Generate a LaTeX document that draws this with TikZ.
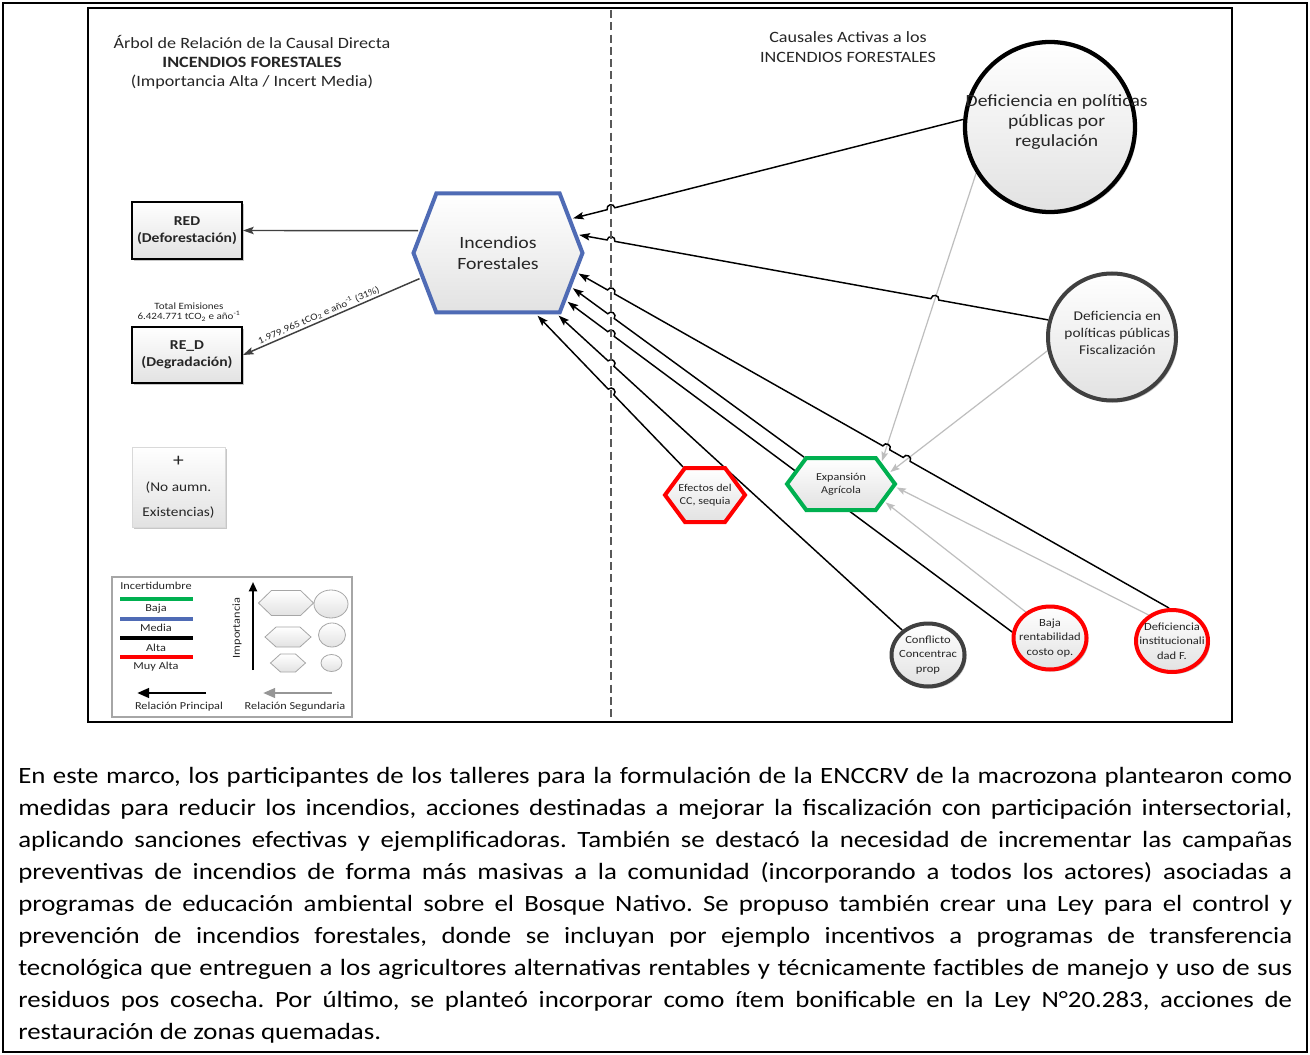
\documentclass[tikz,border=0pt]{standalone}
\usepackage{fontspec}
\setmainfont{Carlito}[FakeStretch=1.15]
\usetikzlibrary{arrows.meta,calc,intersections,shapes.geometric,shapes.symbols,shadows}
\pgfdeclarelayer{bottom}
\pgfdeclarelayer{conn}
\pgfsetlayers{bottom,conn,main}
\definecolor{hexblue}{RGB}{79,107,181}
\definecolor{cred}{RGB}{255,0,0}
\definecolor{cgreen}{RGB}{0,176,80}
\definecolor{cdark}{RGB}{64,64,64}
\definecolor{csec}{RGB}{190,190,190}
\definecolor{ctext}{RGB}{38,38,38}
\definecolor{cdash}{RGB}{89,89,89}
\definecolor{cfill}{RGB}{226,226,226}
\definecolor{clegend}{RGB}{166,166,166}
\definecolor{clarrow}{RGB}{150,150,150}
\tikzset{
  grad/.style={top color=white, bottom color=cfill},
  shad/.style={drop shadow={shadow xshift=1.5pt, shadow yshift=-1.5pt, opacity=0.22, fill=black}},
  hexa/.style={signal, signal to=east and west, signal from=nowhere, grad, inner sep=0pt, align=center, text=ctext},
  circ/.style={ellipse, grad, inner sep=0pt, align=center, text=ctext, shad},
  boxn/.style={rectangle, grad, inner sep=0pt, align=center, text=ctext},
  lbl/.style={align=center, text=ctext, inner sep=0pt},
  prim/.style={draw=black, line width=1.1pt, shorten <=1.2pt, {Stealth[length=8pt,width=5.5pt,inset=1.5pt]}-},
  secn/.style={draw=csec, line width=0.9pt, shorten >=1pt, -{Stealth[length=7pt,width=5pt,inset=1.2pt]}},
  outl/.style={draw=cdark, line width=1.1pt, shorten <=1.2pt, -{Stealth[length=8pt,width=5.5pt,inset=1.5pt]}},
  hop/.style n args={3}{insert path={-- ($(#1)!3pt!(#2)$) .. controls ($(#1)!3pt!(#2)!4pt!-90:(#2)$) and ($(#1)!3pt!(#3)!4pt!90:(#3)$) .. ($(#1)!3pt!(#3)$)}},
}
\begin{document}
\frenchspacing
\begin{tikzpicture}[x=0.75pt,y=-0.75pt]
\useasboundingbox (0,0) rectangle (1310,1055);
\begin{pgfonlayer}{bottom}
\fill[white] (0,0) rectangle (1310,1055);
\end{pgfonlayer}
% frames
\draw[black, line width=1.9pt] (3,3) rectangle (1307,1052);
\draw[black, line width=1.1pt] (88,8) rectangle (1232,722);

% titles
\node[lbl, font=\fontsize{11.8}{14.3}\selectfont] (title) at (252,62)
  {Árbol de Relación de la Causal Directa\\\textbf{INCENDIOS FORESTALES}\\(Importancia Alta / Incert Media)};
\node[lbl, font=\fontsize{11.8}{15}\selectfont] (title2) at (848,47)
  {Causales Activas a los\\INCENDIOS FORESTALES};

% main hexagon
\node[hexa, draw=hexblue, line width=3pt, minimum width=126.75pt, minimum height=89.25pt,
      signal pointer angle=138, font=\fontsize{12.9}{15.75}\selectfont] (hex) at (498,253) {Incendios\\Forestales};

% left boxes
\node[boxn, draw=black, line width=1.5pt, shad, minimum width=82.5pt, minimum height=42.75pt,
      font=\fontsize{10.2}{12.5}\selectfont\bfseries] (red) at (187,230.5) {RED\\(Deforestación)};
\node[boxn, draw=black, line width=1.5pt, shad, minimum width=82.5pt, minimum height=42pt,
      font=\fontsize{10.2}{12.5}\selectfont\bfseries] (red2) at (187,355) {RE\_D\\(Degradación)};
\node[lbl, font=\fontsize{7.2}{7.6}\selectfont] (tot) at (189,312)
  {Total Emisiones\\6.424.771 tCO\textsubscript{2} e año\textsuperscript{-1}};
\node[boxn, draw=black!15, line width=0.6pt, shad, minimum width=69.75pt, minimum height=60pt,
      font=\fontsize{10}{18.75}\selectfont] (plus) at (178.5,487) {{\fontsize{14}{14}\selectfont +}\\(No aumn.\\Existencias)};

% right circles
\node[circ, draw=black, line width=3.2pt, minimum width=127.5pt, minimum height=127.5pt,
      label={[lbl, font=\fontsize{12.8}{15}\selectfont, yshift=3.5pt, xshift=5pt]center:{Deficiencia en políticas\\públicas por\\regulación}}] (bigc) at (1050,127) {};
\node[circ, draw=cdark, line width=3pt, minimum width=96pt, minimum height=95.25pt,
      label={[lbl, font=\fontsize{10}{12.75}\selectfont, yshift=3pt, xshift=4pt]center:{Deficiencia en\\políticas públicas\\Fiscalización}}] (fisc) at (1112,337) {};

% small hexagons
\node[hexa, draw=cred, line width=3pt, minimum width=60pt, minimum height=40.5pt, signal pointer angle=107,
      label={[lbl, font=\fontsize{7.9}{9.75}\selectfont]center:{Efectos del\\CC, sequia}}] (efec) at (705,495) {};
\node[hexa, draw=cgreen, line width=3pt, minimum width=81pt, minimum height=39pt, signal pointer angle=107,
      label={[lbl, font=\fontsize{7.9}{9.75}\selectfont]center:{Expansión\\Agrícola}}] (expa) at (841,484) {};

% bottom circles
\node[circ, draw=cdark, line width=3pt, minimum width=54.75pt, minimum height=47.25pt,
      label={[lbl, font=\fontsize{8.2}{10.9}\selectfont]center:{Conflicto\\Concentrac\\prop}}] (conf) at (928,655) {};
\node[circ, draw=cred, line width=3pt, minimum width=54.75pt, minimum height=47.25pt,
      label={[lbl, font=\fontsize{8.2}{10.9}\selectfont]center:{Baja\\rentabilidad\\costo op.}}] (baja) at (1050,638) {};
\node[circ, draw=cred, line width=3pt, minimum width=54pt, minimum height=46.5pt,
      label={[lbl, font=\fontsize{8.2}{10.9}\selectfont]center:{Deficiencia\\institucionali\\dad F.}}] (defi) at (1172,641) {};

% legend
\draw[clegend, line width=0.8pt] (112,577) rectangle (352,717);
\node[lbl, font=\fontsize{8}{9}\selectfont] (lgInc) at (156,586) {Incertidumbre};
\coordinate (lg1a) at (120,599); \coordinate (lg1b) at (193,599);
\coordinate (lg2a) at (120,619); \coordinate (lg2b) at (193,619);
\coordinate (lg3a) at (120,638); \coordinate (lg3b) at (193,638);
\coordinate (lg4a) at (120,657); \coordinate (lg4b) at (193,657);
\draw[cgreen, line width=2.3pt] (lg1a) -- (lg1b);
\draw[hexblue, line width=2.3pt] (lg2a) -- (lg2b);
\draw[black, line width=2.3pt] (lg3a) -- (lg3b);
\draw[cred, line width=2.3pt] (lg4a) -- (lg4b);
\node[lbl, font=\fontsize{8}{9}\selectfont] (lgB) at (156,609) {Baja};
\node[lbl, font=\fontsize{8}{9}\selectfont] (lgM) at (156,628) {Media};
\node[lbl, font=\fontsize{8}{9}\selectfont] (lgA) at (156,648) {Alta};
\node[lbl, font=\fontsize{8}{9}\selectfont] (lgMA) at (156,667) {Muy Alta};
\node[lbl, font=\fontsize{8}{9}\selectfont, rotate=90] (lgImp) at (237,628) {Importancia};
\coordinate (lgv1) at (253,670); \coordinate (lgv2) at (253,582);
\draw[black, line width=1.5pt, -{Triangle[length=7pt,width=6pt]}] (lgv1) -- (lgv2);
\node[hexa, draw=clegend, line width=0.6pt, minimum width=41.25pt, minimum height=18.75pt, signal pointer angle=88] (lh1) at (286,603) {};
\node[hexa, draw=clegend, line width=0.6pt, minimum width=34.5pt, minimum height=15pt, signal pointer angle=84] (lh2) at (288,637) {};
\node[hexa, draw=clegend, line width=0.6pt, minimum width=26.25pt, minimum height=13.5pt, signal pointer angle=84] (lh3) at (288,663) {};
\node[ellipse, grad, draw=clegend, line width=0.6pt, minimum width=25.5pt, minimum height=21pt, inner sep=0pt] (lc1) at (331,604) {};
\node[ellipse, grad, draw=clegend, line width=0.6pt, minimum width=20.25pt, minimum height=18pt, inner sep=0pt] (lc2) at (332,635) {};
\node[ellipse, grad, draw=clegend, line width=0.6pt, minimum width=15.75pt, minimum height=12.75pt, inner sep=0pt] (lc3) at (331.5,663) {};
\coordinate (lpa) at (206,693); \coordinate (lpb) at (137,693);
\coordinate (lsa) at (332,693); \coordinate (lsb) at (263,693);
\draw[black, line width=2.2pt, -{Triangle[length=9pt,width=7pt]}] (lpa) -- (lpb);
\draw[clarrow, line width=2pt, -{Triangle[length=9pt,width=7pt]}] (lsa) -- (lsb);
\node[lbl, font=\fontsize{8}{9}\selectfont] (lgP) at (179,707) {Relación Principal};
\node[lbl, font=\fontsize{8}{9}\selectfont] (lgS) at (295,707) {Relación Segundaria};

% paragraph
\node[anchor=north west, inner sep=0pt, text width=955.5pt, align=justify,
      font=\fontsize{17.5}{24}\selectfont\frenchspacing, text=black] (para) at (18,767)
{\hyphenpenalty=10000 \exhyphenpenalty=10000
En este marco, los participantes de los talleres para la formulación de la ENCCRV de la macrozona plantearon como\linebreak
medidas para reducir los incendios, acciones destinadas a mejorar la fiscalización con participación intersectorial,\linebreak
aplicando sanciones efectivas y ejemplificadoras. También se destacó la necesidad de incrementar las campañas\linebreak
preventivas de incendios de forma más masivas a la comunidad (incorporando a todos los actores) asociadas a\linebreak
programas de educación ambiental sobre el Bosque Nativo. Se propuso también crear una Ley para el control y\linebreak
prevención de incendios forestales, donde se incluyan por ejemplo incentivos a programas de transferencia\linebreak
tecnológica que entreguen a los agricultores alternativas rentables y técnicamente factibles de manejo y uso de sus\linebreak
residuos pos cosecha. Por último, se planteó incorporar como ítem bonificable en la Ley N°20.283, acciones de\linebreak
restauración de zonas quemadas.};

% connectors
\begin{pgfonlayer}{conn}
\coordinate (dtop) at (611,10); \coordinate (dbot) at (611,720);
\path[name path=dashp] (dtop) -- (dbot);
% secondary relations
\draw[secn, name path=g1] (bigc.212) -- (expa.28);
\draw[secn, name path=g2] (fisc.192) -- (expa.13);
\draw[secn, name path=g3] (baja.133) -- (expa.-22);
\draw[secn, name path=g4] (defi.132) -- (expa.-3);
% helper paths
\path[name path=la] (hex.25) -- (bigc.175);
\path[name path=lb] (hex.13) -- (fisc.165);
\path[name path=lc] (hex.-14) -- (defi.95);
\path[name path=ld] (hex.-25) -- (expa.144);
\path[name path=le] (hex.-35) -- (baja.171);
\path[name path=lf] (hex.-46) -- (conf.136);
\path[name path=lg] (hex.-58) -- (efec.128);
\path[name intersections={of=la and dashp, by=xa}];
\path[name intersections={of=lb and dashp, by=xb1}];
\path[name intersections={of=lb and g1, by=xb2}];
\path[name intersections={of=lc and dashp, by=xc1}];
\path[name intersections={of=lc and g1, by=xc2}];
\path[name intersections={of=lc and g2, by=xc3}];
\path[name intersections={of=ld and dashp, by=xd}];
\path[name intersections={of=le and dashp, by=xe}];
\path[name intersections={of=lf and dashp, by=xf}];
\path[name intersections={of=lg and dashp, by=xg}];
% principal relations
\draw[prim] (hex.25) [hop={xa}{hex.25}{bigc.175}] -- (bigc.175);
\draw[prim] (hex.13) [hop={xb1}{hex.13}{fisc.165}] [hop={xb2}{hex.13}{fisc.165}] -- (fisc.165);
\draw[prim] (hex.-14) [hop={xc1}{hex.-14}{defi.95}] [hop={xc2}{hex.-14}{defi.95}] [hop={xc3}{hex.-14}{defi.95}] -- (defi.95);
\draw[prim] (hex.-25) [hop={xd}{hex.-25}{expa.144}] -- (expa.144);
\draw[prim] (hex.-35) [hop={xe}{hex.-35}{baja.171}] -- (baja.171);
\draw[prim] (hex.-46) [hop={xf}{hex.-46}{conf.136}] -- (conf.136);
\draw[prim] (hex.-58) [hop={xg}{hex.-58}{efec.128}] -- (efec.128);
% outgoing
\draw[outl] (hex.164) -- (red.east);
\draw[outl] (hex.198) -- node[pos=0.56, sloped, above=0.5pt, inner sep=0.5pt, text=ctext, font=\fontsize{7.2}{8}\selectfont]
  {1.979.965 tCO\textsubscript{2} e año\textsuperscript{-1} (31\%)} (red2.east);
% dashed separator
\draw[cdash, line width=1.7pt, dash pattern=on 6pt off 3.2pt] (dtop) -- (dbot);
\end{pgfonlayer}
\end{tikzpicture}
\end{document}
